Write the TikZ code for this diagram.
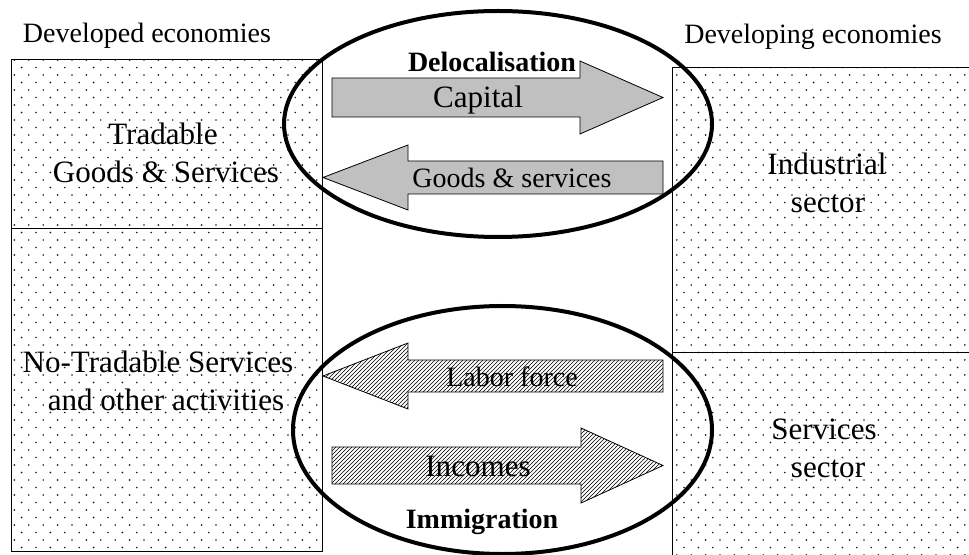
\documentclass[tikz,border=0pt]{standalone}
\usepackage{fontspec}
\setmainfont{Liberation Serif}
\usetikzlibrary{patterns,shapes.geometric}

% staggered grid of small dots for the economy blocks
\pgfdeclarepatternformonly{sparsedots}{\pgfqpoint{-1pt}{-1pt}}{\pgfqpoint{11.8pt}{12.25pt}}{\pgfqpoint{10.8pt}{11.25pt}}{%
  \pgfpathcircle{\pgfqpoint{0pt}{0pt}}{0.7pt}%
  \pgfpathcircle{\pgfqpoint{5.4pt}{5.6pt}}{0.7pt}%
  \pgfusepath{fill}}

\definecolor{arrowgray}{HTML}{C0C0C0}
\definecolor{dotgray}{HTML}{202020}

\begin{document}
\begin{tikzpicture}[x=0.75pt,y=-0.75pt,
  block/.style={draw=black,line width=0.75pt,pattern=sparsedots,pattern color=dotgray},
  divider/.style={draw=black,line width=0.75pt},
  solidarrow/.style={draw=black,line width=0.6pt,fill=arrowgray,line join=miter},
  hatcharrow/.style={draw=black,line width=0.6pt,pattern=north east lines,pattern color=black,line join=miter},
  ring/.style={draw=black,line width=3pt,ellipse,inner sep=0pt},
  hdr/.style={font=\fontsize{21}{25}\selectfont,inner sep=0pt,anchor=base},
  big/.style={font=\fontsize{23.3}{28}\selectfont,inner sep=0pt,anchor=base},
  lbl/.style={font=\fontsize{21}{25}\selectfont,inner sep=0pt,anchor=base},
  boldlbl/.style={font=\fontsize{21}{25}\selectfont\bfseries,inner sep=0pt,anchor=base}]

\useasboundingbox (0,0) rectangle (969,555);
\clip (0,0) rectangle (969,555);

% developed economies block
\path[block] (11,60) rectangle (322,551);
\draw[divider] (11,229) -- (322,229);

% developing economies block (runs past the frame)
\path[block] (672,68) rectangle (980,565);
\draw[divider] (672,352) -- (980,352);

% delocalisation flows
\path[solidarrow] (332,78) -- (580,78) -- (580,61) -- (663,97.5) -- (580,134) -- (580,117) -- (332,117) -- cycle;
\path[solidarrow] (663,161) -- (408,161) -- (408,145) -- (323,177.5) -- (408,210) -- (408,194) -- (663,194) -- cycle;

% immigration flows
\path[hatcharrow] (663,360) -- (408,360) -- (408,343) -- (323,376) -- (408,409) -- (408,392) -- (663,392) -- cycle;
\path[hatcharrow] (332,447) -- (581,447) -- (581,428) -- (663,465.5) -- (581,503) -- (581,484) -- (332,484) -- cycle;

% grouping rings
\node[ring,minimum width=321pt,minimum height=169.5pt] (delocring) at (498,124) {};
\node[ring,minimum width=314.25pt,minimum height=186pt] (immring) at (502.5,430) {};

% headings
\node[hdr] (developed) at (147,43) {Developed economies};
\node[hdr] (developing) at (813,44) {Developing economies};

% block labels
\node[big] (tradA) at (163,145) {Tradable};
\node[big] (tradB) at (166,183) {Goods \& Services};
\node[big] (nontradA) at (158,372) {No-Tradable Services};
\node[big] (nontradB) at (166,410) {and other activities};
\node[big] (indA) at (827,175) {Industrial};
\node[big] (indB) at (828,213) {sector};
\node[big] (servA) at (824,439) {Services};
\node[big] (servB) at (828,477) {sector};

% flow labels
\node[boldlbl] (deloc) at (492,72) {Delocalisation};
\node[big] (capital) at (478,108) {Capital};
\node[lbl] (goods) at (512,188) {Goods \& services};
\node[lbl] (labor) at (512,386) {Labor force};
\node[big] (incomes) at (478,476) {Incomes};
\node[boldlbl] (immig) at (482,528) {Immigration};

\end{tikzpicture}
\end{document}
